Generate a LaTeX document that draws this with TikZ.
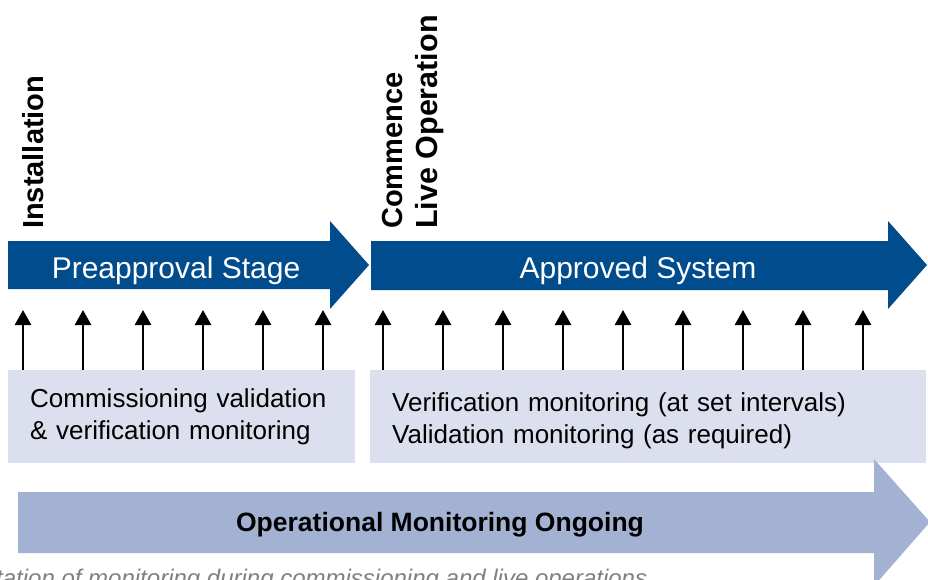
\documentclass[tikz,border=0pt]{standalone}
\usepackage{fontspec}
\setmainfont{Liberation Sans}
\usetikzlibrary{arrows.meta}

\definecolor{stageblue}{RGB}{0,76,140}
\definecolor{boxlilac}{RGB}{220,224,238}
\definecolor{ongoingblue}{RGB}{163,178,211}
\definecolor{captiongrey}{RGB}{128,128,128}

\begin{document}
\begin{tikzpicture}[x=1pt,y=-1pt,
  stagelabel/.style={text=white,anchor=base,font=\fontsize{30}{36}\selectfont,inner sep=0pt},
  milestone/.style={rotate=90,anchor=base west,inner sep=0pt,font=\fontsize{29}{34}\bfseries\selectfont},
  infobox/.style={fill=boxlilac,anchor=north west,align=left,inner xsep=22pt,inner ysep=0pt,
    minimum height=93pt,font=\fontsize{26}{32}\selectfont},
  tickarrow/.style={line width=2.7pt,-{Triangle[length=15pt,width=16pt]}}]
\useasboundingbox (0,0) rectangle (928,579);

% Preapproval stage
\fill[stageblue] (8,241) -- (330,241) -- (330,221) -- (369,265) -- (330,309) -- (330,289) -- (8,289) -- cycle;
\node[stagelabel] (preapproval) at (176,278) {Preapproval Stage};

% Approved system
\fill[stageblue] (371,241) -- (888,241) -- (888,221) -- (927,265) -- (888,309) -- (888,290) -- (371,290) -- cycle;
\node[stagelabel] (approved) at (638,278) {Approved System};

% Milestones
\node[milestone] (install) at (43,229) {Installation};
\node[milestone] (commence) at (402,229) {Commence};
\node[milestone,font=\fontsize{30.5}{36}\bfseries\selectfont] (liveop) at (437,229) {Live Operation};

% Monitoring boxes
\node[infobox,text width=303pt] (commbox) at (8,370) {Commissioning validation\\\& verification monitoring};
\node[infobox,text width=512pt] (verifbox) at (370,370) {\rule{0pt}{27pt}Verification monitoring (at set intervals)\\Validation monitoring (as required)};

% Monitoring checks
\foreach \i in {0,...,14} {
  \coordinate (tip\i) at ({23+60*\i},310);
  \draw[tickarrow] (tip\i |- commbox.north) -- (tip\i);
}

% Operational monitoring
\fill[ongoingblue] (18,492) -- (874,492) -- (874,459) -- (930,522) -- (874,586) -- (874,553) -- (18,553) -- cycle;
\node[anchor=base,font=\fontsize{26.5}{32}\bfseries\selectfont,inner sep=0pt] (ongoing) at (440,531) {Operational Monitoring Ongoing};

% Caption
\node[anchor=base west,inner sep=0pt,text=captiongrey,font=\fontsize{24}{29}\itshape\selectfont] (caption) at (-4,586) {tation of monitoring during commissioning and live operations};
\end{tikzpicture}
\end{document}
